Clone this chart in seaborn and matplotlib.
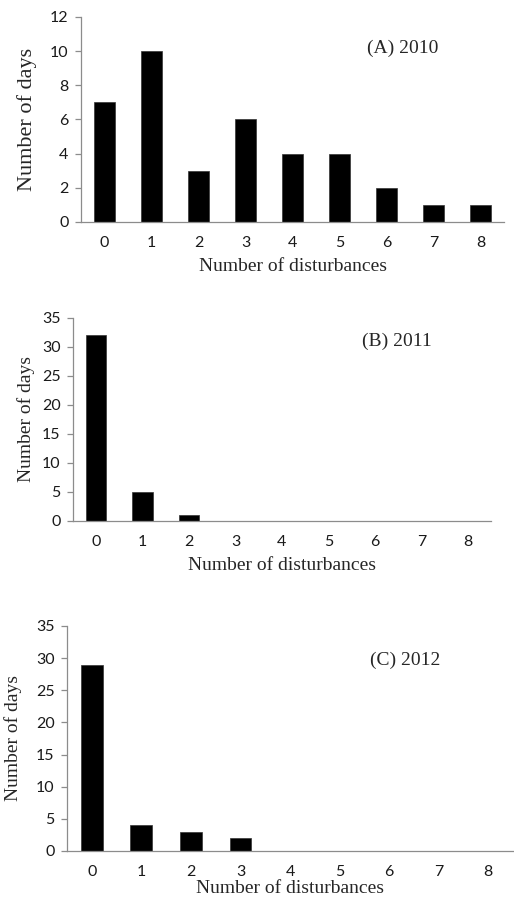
import numpy as np
import pandas as pd
import seaborn as sns
import matplotlib.pyplot as plt

sns.set_style("white")
plt.rcParams["font.family"] = ["Lato", "DejaVu Sans"]

# =========================
# Data
# =========================
disturbances = ["0", "1", "2", "3", "4", "5", "6", "7", "8"]
days_2010 = [7, 10, 3, 6, 4, 4, 2, 1, 1]
days_2011 = [32, 5, 1, 0, 0, 0, 0, 0, 0]
days_2012 = [29, 4, 3, 2, 0, 0, 0, 0, 0]

panel_titles = ["(A) 2010", "(B) 2011", "(C) 2012"]
yticks_a = [0, 2, 4, 6, 8, 10, 12]
yticks_bc = [0, 5, 10, 15, 20, 25, 30, 35]

GREY = "#8c8c8c"
SERIF = "Liberation Serif"

fig = plt.figure(figsize=(5.14, 8.99), dpi=100)

# axes boxes in figure fractions: [left, bottom, width, height]
boxes = [
    [0.1576, 0.7531, 0.8230, 0.2280],
    [0.1420, 0.4205, 0.8132, 0.2258],
    [0.1304, 0.0534, 0.8677, 0.2503],
]
label_pos = [(0.761, 0.849), (0.775, 0.887), (0.758, 0.849)]
ylabel_size = [16, 14, 14]
xlabel_pad = [6, 6, 1]
ylabel_pad = [9, 5, 10]


def draw_panel(ax, values, title, yticks, tpos, ysz, xpad, ypad):
    df = pd.DataFrame({"dist": disturbances, "days": values})
    sns.barplot(data=df, x="dist", y="days", color="black", width=0.44,
                saturation=1, edgecolor="#333333", linewidth=0.5, ax=ax)
    ax.set_xlim(-0.5, 8.5)
    ax.set_ylim(0, yticks[-1])
    ax.set_yticks(yticks)
    ax.set_xticks(np.arange(-0.5, 9, 1), minor=True)

    for s in ["top", "right"]:
        ax.spines[s].set_visible(False)
    for s in ["left", "bottom"]:
        ax.spines[s].set_color(GREY)
        ax.spines[s].set_linewidth(0.9)

    ax.tick_params(axis="x", which="major", length=0, pad=10,
                   labelsize=11.5, labelcolor="#1a1a1a")
    ax.tick_params(axis="x", which="minor", length=4, width=0.9,
                   color=GREY, direction="out")
    ax.tick_params(axis="y", length=4, width=0.9, color=GREY,
                   direction="out", pad=5, labelsize=11.5,
                   labelcolor="#1a1a1a", left=True)

    ax.set_xlabel("Number of disturbances", family=SERIF, fontsize=14,
                  labelpad=xpad)
    ax.set_ylabel("Number of days", family=SERIF, fontsize=ysz,
                  labelpad=ypad)
    ax.text(tpos[0], tpos[1], title, transform=ax.transAxes, family=SERIF,
            fontsize=14, ha="center", va="center")


all_values = [days_2010, days_2011, days_2012]
all_yticks = [yticks_a, yticks_bc, yticks_bc]

for i in range(3):
    ax = fig.add_axes(boxes[i])
    draw_panel(ax, all_values[i], panel_titles[i], all_yticks[i],
               label_pos[i], ylabel_size[i], xlabel_pad[i], ylabel_pad[i])

fig.savefig("out.png", dpi=100)
